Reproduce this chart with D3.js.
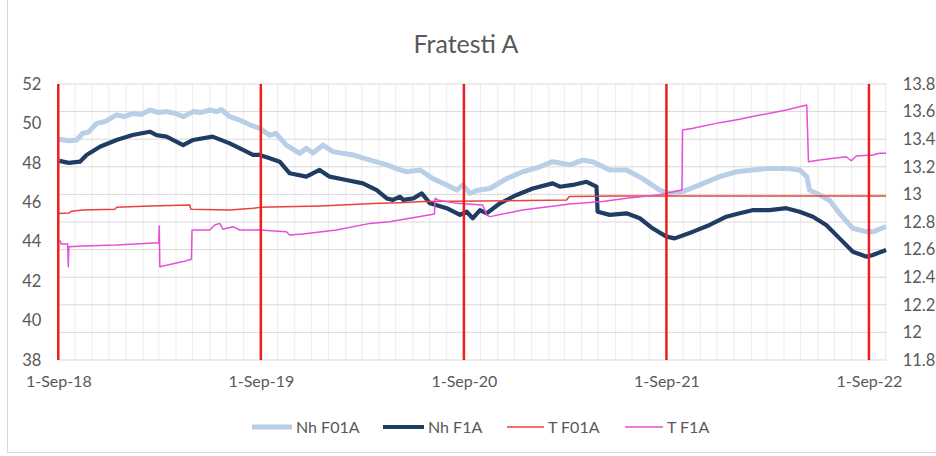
<!DOCTYPE html>
<html><head><meta charset="utf-8">
<script src="https://cdn.jsdelivr.net/npm/d3@7"></script>
<style>
html,body{margin:0;padding:0;background:#fff;}
svg{display:block;font-family:Lato,"Open Sans",sans-serif;}
</style></head>
<body><svg id="c" width="936" height="456"></svg>
<script>
const title = "Fratesti A";
const seriesNames = ["Nh F01A", "Nh F1A", "T F01A", "T F1A"];
const leftTicks = [38, 40, 42, 44, 46, 48, 50, 52];
const rightTicks = [11.8, 12, 12.2, 12.4, 12.6, 12.8, 13, 13.2, 13.4, 13.6, 13.8];
const xTickDates = ["2018-09-01", "2019-09-01", "2020-09-01", "2021-09-01", "2022-09-01"];
const markerDates = ["2018-09-01", "2019-09-01", "2020-09-01", "2021-09-01", "2022-09-01"];
const xDomain = ["2018-09-01", "2022-10-03"];

// Nh F01A (left axis)
const nhF01A = [
["2018-09-03",49.2],["2018-09-20",49.12],["2018-10-04",49.16],["2018-10-15",49.5],["2018-10-25",49.55],["2018-11-09",50.0],["2018-11-25",50.1],
["2018-12-15",50.43],["2018-12-28",50.35],["2019-01-13",50.5],["2019-01-28",50.45],["2019-02-13",50.68],["2019-03-01",50.55],["2019-03-15",50.6],
["2019-04-01",50.5],["2019-04-14",50.34],["2019-05-02",50.6],["2019-05-15",50.55],["2019-06-01",50.68],["2019-06-13",50.6],["2019-06-22",50.7],
["2019-07-07",50.34],["2019-07-25",50.17],["2019-08-15",49.9],["2019-08-30",49.75],["2019-09-17",49.4],["2019-09-28",49.5],["2019-10-17",48.9],
["2019-11-10",48.48],["2019-11-22",48.74],["2019-12-04",48.5],["2019-12-22",48.9],["2020-01-09",48.57],["2020-02-14",48.4],["2020-03-16",48.14],
["2020-04-15",47.9],["2020-05-09",47.64],["2020-05-21",47.55],["2020-06-14",47.64],["2020-07-07",47.2],["2020-08-01",46.88],["2020-08-19",46.62],
["2020-08-30",46.88],["2020-09-12",46.45],["2020-09-24",46.6],["2020-10-18",46.7],["2020-11-17",47.2],["2020-12-16",47.55],["2021-01-16",47.8],
["2021-02-08",48.06],["2021-03-11",47.9],["2021-04-03",48.14],["2021-04-21",48.06],["2021-05-22",47.64],["2021-06-21",47.64],["2021-07-20",47.2],
["2021-08-20",46.62],["2021-09-07",46.45],["2021-09-30",46.54],["2021-10-31",46.88],["2021-12-06",47.3],["2022-01-05",47.55],["2022-02-03",47.64],
["2022-03-06",47.72],["2022-04-05",47.72],["2022-04-29",47.64],["2022-05-12",47.3],["2022-05-17",46.62],["2022-06-04",46.37],["2022-06-22",46.1],
["2022-07-10",45.44],["2022-08-03",44.68],["2022-08-28",44.5],["2022-09-08",44.5],["2022-10-02",44.77]
];

// Nh F1A (left axis)
const nhF1A = [
["2018-09-03",48.1],["2018-09-20",48.0],["2018-10-10",48.06],["2018-10-22",48.4],["2018-11-15",48.82],["2018-12-15",49.16],["2019-01-13",49.41],
["2019-02-13",49.58],["2019-02-25",49.41],["2019-03-15",49.33],["2019-04-14",48.9],["2019-05-02",49.16],["2019-06-06",49.33],["2019-07-07",48.99],
["2019-07-19",48.82],["2019-08-18",48.4],["2019-08-30",48.4],["2019-09-17",48.23],["2019-10-05",48.06],["2019-10-23",47.47],["2019-11-22",47.3],
["2019-12-16",47.64],["2020-01-03",47.3],["2020-02-02",47.13],["2020-03-03",46.96],["2020-03-28",46.62],["2020-04-15",46.2],["2020-04-26",46.12],
["2020-05-09",46.28],["2020-05-15",46.12],["2020-06-02",46.2],["2020-06-17",46.45],["2020-07-02",45.95],["2020-08-01",45.7],["2020-08-25",45.36],
["2020-09-06",45.52],["2020-09-17",45.19],["2020-09-30",45.6],["2020-10-12",45.44],["2020-11-05",45.95],["2020-12-05",46.37],["2021-01-03",46.7],
["2021-02-08",46.96],["2021-02-21",46.79],["2021-03-16",46.88],["2021-04-10",47.04],["2021-04-28",46.79],["2021-04-30",45.52],["2021-05-22",45.36],
["2021-06-21",45.44],["2021-07-15",45.19],["2021-08-07",44.68],["2021-09-01",44.26],["2021-09-16",44.17],["2021-10-19",44.51],["2021-11-18",44.85],
["2021-12-18",45.27],["2022-01-11",45.44],["2022-02-03",45.6],["2022-03-06",45.6],["2022-04-05",45.7],["2022-04-29",45.52],["2022-05-23",45.27],
["2022-06-16",44.85],["2022-07-10",44.17],["2022-08-03",43.49],["2022-08-28",43.24],["2022-09-08",43.33],["2022-10-02",43.58]
];

// T F01A (right axis)
const tF01A = [
["2018-09-01",12.862],["2018-09-20",12.865],["2018-09-25",12.878],["2018-10-15",12.887],["2018-12-12",12.892],["2018-12-15",12.906],
["2019-02-13",12.916],["2019-04-26",12.923],["2019-04-28",12.892],["2019-07-07",12.887],["2019-08-18",12.899],["2019-08-30",12.906],
["2019-12-16",12.916],["2020-04-02",12.935],["2020-05-09",12.94],["2020-06-20",12.948],["2021-03-05",12.959],["2021-03-10",12.985],
["2021-06-01",12.988],["2022-10-02",12.988]
];

// T F1A (right axis)
const tF1A = [
["2018-09-01",12.66],["2018-09-05",12.66],["2018-09-06",12.64],["2018-09-18",12.64],["2018-09-19",12.476],["2018-09-20",12.62],
["2018-10-15",12.626],["2018-12-15",12.633],["2019-03-01",12.65],["2019-03-02",12.771],["2019-03-03",12.476],["2019-04-14",12.513],
["2019-04-29",12.53],["2019-04-30",12.742],["2019-06-01",12.742],["2019-06-10",12.778],["2019-06-19",12.79],["2019-06-25",12.747],
["2019-07-01",12.754],["2019-07-13",12.766],["2019-07-25",12.742],["2019-08-30",12.742],["2019-10-17",12.73],["2019-10-23",12.706],
["2019-11-16",12.713],["2020-01-15",12.742],["2020-03-16",12.79],["2020-04-20",12.802],["2020-07-10",12.858],["2020-07-11",12.972],
["2020-07-16",12.96],["2020-08-19",12.935],["2020-10-05",12.923],["2020-10-12",12.85],["2020-10-18",12.839],["2020-12-16",12.887],
["2021-03-11",12.93],["2021-05-09",12.948],["2021-06-21",12.972],["2021-08-20",12.997],["2021-09-29",13.032],["2021-09-30",13.467],
["2021-10-19",13.479],["2021-12-06",13.52],["2022-01-11",13.544],["2022-02-03",13.564],["2022-04-05",13.612],["2022-05-12",13.648],
["2022-05-15",13.237],["2022-06-04",13.249],["2022-07-22",13.273],["2022-07-31",13.244],["2022-08-09",13.278],["2022-09-08",13.286],
["2022-09-20",13.298],["2022-10-02",13.298]
];

const parse = d3.timeParse("%Y-%m-%d");
const svg = d3.select("#c");
const W = 936, H = 456;
const m = {left: 58.3, right: 886.7, top: 84, bottom: 360};
const textColor = "#595959";

// chart border
svg.append("rect").attr("x", 7.5).attr("y", -2).attr("width", 940).attr("height", 454.5)
  .attr("fill", "#fff").attr("stroke", "#d9d9d9").attr("stroke-width", 1);

const x = d3.scaleTime().domain(xDomain.map(parse)).range([m.left, m.right]);
const yL = d3.scaleLinear().domain([38, 52]).range([m.bottom, m.top]);
const yR = d3.scaleLinear().domain([11.8, 13.8]).range([m.bottom, m.top]);

// monthly vertical gridlines
const months = d3.timeMonth.range(d3.timeMonth.ceil(x.domain()[0]), x.domain()[1]);
svg.append("g").selectAll("line").data(months).join("line")
  .attr("x1", d => x(d)).attr("x2", d => x(d))
  .attr("y1", m.top).attr("y2", m.bottom)
  .attr("stroke", "#ececec").attr("stroke-width", 1);

// horizontal gridlines (right axis ticks)
svg.append("g").selectAll("line").data(rightTicks).join("line")
  .attr("x1", m.left).attr("x2", m.right)
  .attr("y1", d => yR(d)).attr("y2", d => yR(d))
  .attr("stroke", "#d9d9d9").attr("stroke-width", 1);

// left axis
const gL = svg.append("g").attr("transform", `translate(${m.left},0)`)
  .call(d3.axisLeft(yL).tickValues(leftTicks).tickSize(0).tickPadding(17).tickFormat(d3.format("d")));
gL.select(".domain").remove();
gL.selectAll("text").attr("fill", textColor).style("font-size", "16.5px").style("font-family", "Lato");

// right axis
const gR = svg.append("g").attr("transform", `translate(${m.right},0)`)
  .call(d3.axisRight(yR).tickValues(rightTicks).tickSize(0).tickPadding(16).tickFormat(d => String(+d.toFixed(1))));
gR.select(".domain").remove();
gR.selectAll("text").attr("fill", textColor).style("font-size", "16.5px").style("font-family", "Lato");

// bottom axis
const gB = svg.append("g").attr("transform", `translate(0,${m.bottom})`)
  .call(d3.axisBottom(x).tickValues(xTickDates.map(parse)).tickSize(0).tickPadding(16).tickFormat(d3.timeFormat("%-d-%b-%y")));
gB.select(".domain").remove();
gB.selectAll("text").attr("fill", textColor).style("font-size", "16px").style("font-family", "Lato");

// series
const lineL = d3.line().x(d => x(parse(d[0]))).y(d => yL(d[1]));
const lineR = d3.line().x(d => x(parse(d[0]))).y(d => yR(d[1]));
const styles = [
  {data: nhF01A, gen: lineL, color: "#b8cfe7", w: 5},
  {data: nhF1A, gen: lineL, color: "#1f3d64", w: 4.2},
  {data: tF01A, gen: lineR, color: "#e8453a", w: 1.5},
  {data: tF1A, gen: lineR, color: "#e64fd6", w: 1.5}
];
styles.forEach(s => {
  svg.append("path").attr("d", s.gen(s.data)).attr("fill", "none")
    .attr("stroke", s.color).attr("stroke-width", s.w).attr("stroke-linejoin", "round");
});

// red vertical marker lines
svg.append("g").selectAll("line").data(markerDates.map(parse)).join("line")
  .attr("x1", d => x(d)).attr("x2", d => x(d))
  .attr("y1", yL(52)).attr("y2", yL(38))
  .attr("stroke", "#ee1d1d").attr("stroke-width", 2.5);

// title
svg.append("text").attr("x", 466).attr("y", 53).attr("text-anchor", "middle")
  .attr("fill", textColor).style("font-size", "25px").style("font-family", "Lato").text(title);

// legend
const legendPos = [
  {lx: 252, tx: 296}, {lx: 383, tx: 428}, {lx: 507, tx: 548}, {lx: 625, tx: 667}
];
const lg = svg.append("g");
seriesNames.forEach((n, i) => {
  const p = legendPos[i], s = styles[i];
  lg.append("line").attr("x1", p.lx).attr("x2", p.tx - 4).attr("y1", 427).attr("y2", 427)
    .attr("stroke", s.color).attr("stroke-width", s.w);
  lg.append("text").attr("x", p.tx).attr("y", 433).attr("fill", textColor)
    .style("font-size", "16px").style("font-family", "Lato").text(n);
});
</script></body></html>
